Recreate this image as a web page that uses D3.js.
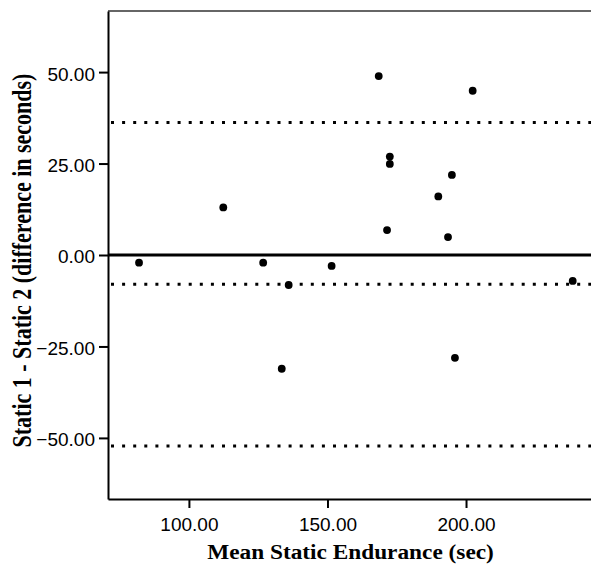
<!DOCTYPE html>
<html>
<head>
<meta charset="utf-8">
<script src="https://cdn.jsdelivr.net/npm/d3@7"></script>
<style>
    body { margin: 0; background: #fff; }
    svg { display: block; }
</style>
</head>
<body>
<svg id="chart"></svg>
<script>
// Bland-Altman data
const meanEndurance = [82.0, 112.4, 126.8, 136.0, 133.5, 151.5, 168.5, 202.4,
    172.5, 172.5, 194.9, 190.0, 171.5, 193.5, 196.0, 238.5];
const difference = [-2.1, 13.0, -2.1, -8.2, -31.1, -3.0, 48.9, 44.9,
    26.9, 24.9, 21.9, 16.0, 6.8, 4.9, -28.1, -7.1];

const meanDiff = -8.0;
const limits = [36.2, -52.2];

const xTicks = [100, 150, 200];
const yTicks = [-50, -25, 0, 25, 50];

const width = 591;
const height = 565;
const svg = d3.select("#chart").attr("width", width).attr("height", height);

const margin = { top: 11, right: 0, bottom: 66, left: 108 };

const x = d3.scaleLinear()
    .domain([70.8, 245.1])
    .range([margin.left, width - margin.right]);

const y = d3.scaleLinear()
    .domain([-66.7, 66.7])
    .range([height - margin.bottom, margin.top]);

// top border of the frame
svg.append("line")
    .attr("x1", margin.left).attr("x2", width)
    .attr("y1", margin.top).attr("y2", margin.top)
    .attr("stroke", "#333").attr("stroke-width", 1.5);

// zero line
svg.append("line")
    .attr("x1", margin.left).attr("x2", width)
    .attr("y1", y(0)).attr("y2", y(0))
    .attr("stroke", "#000").attr("stroke-width", 3.2);

// mean and limits of agreement
svg.selectAll("line.ref")
    .data([meanDiff].concat(limits))
    .enter().append("line")
    .attr("class", "ref")
    .attr("x1", margin.left + 3).attr("x2", width)
    .attr("y1", d => y(d)).attr("y2", d => y(d))
    .attr("stroke", "#000")
    .attr("stroke-width", 3)
    .attr("stroke-dasharray", "3,8.1");

const xAxis = d3.axisBottom(x)
    .tickValues(xTicks)
    .tickFormat(d3.format(".2f"))
    .tickSizeInner(9)
    .tickSizeOuter(0)
    .tickPadding(10);

const yAxis = d3.axisLeft(y)
    .tickValues(yTicks)
    .tickFormat(d3.format(".2f"))
    .tickSizeInner(9)
    .tickSizeOuter(0)
    .tickPadding(4);

const gx = svg.append("g")
    .attr("transform", `translate(0,${height - margin.bottom})`)
    .call(xAxis);

const gy = svg.append("g")
    .attr("transform", `translate(${margin.left},0)`)
    .call(yAxis);

[gx, gy].forEach(g => {
    g.select(".domain").attr("stroke", "#000").attr("stroke-width", 2);
    g.selectAll(".tick line").attr("stroke", "#000").attr("stroke-width", 2);
    g.selectAll(".tick text")
        .attr("fill", "#000")
        .attr("font-family", "Liberation Sans, Arial, sans-serif")
        .attr("font-size", 19);
});
gy.selectAll(".tick text").attr("dy", "0.42em");

// points
svg.selectAll("circle.pt")
    .data(meanEndurance.map((m, i) => ({ m, d: difference[i] })))
    .enter().append("circle")
    .attr("class", "pt")
    .attr("cx", d => x(d.m))
    .attr("cy", d => y(d.d))
    .attr("r", 3.9)
    .attr("fill", "#000");

// axis titles
svg.append("text")
    .attr("transform", "translate(350.5,559) scale(1.11,1)")
    .attr("text-anchor", "middle")
    .attr("font-family", "Liberation Serif, Times New Roman, serif")
    .attr("font-weight", "bold")
    .attr("font-size", 21)
    .text("Mean Static Endurance (sec)");

svg.append("text")
    .attr("transform", "translate(31,260.5) scale(1.2,1) rotate(-90)")
    .attr("text-anchor", "middle")
    .attr("font-family", "Liberation Serif, Times New Roman, serif")
    .attr("font-weight", "bold")
    .attr("font-size", 22)
    .text("Static 1 - Static 2 (difference in seconds)");
</script>
</body>
</html>
